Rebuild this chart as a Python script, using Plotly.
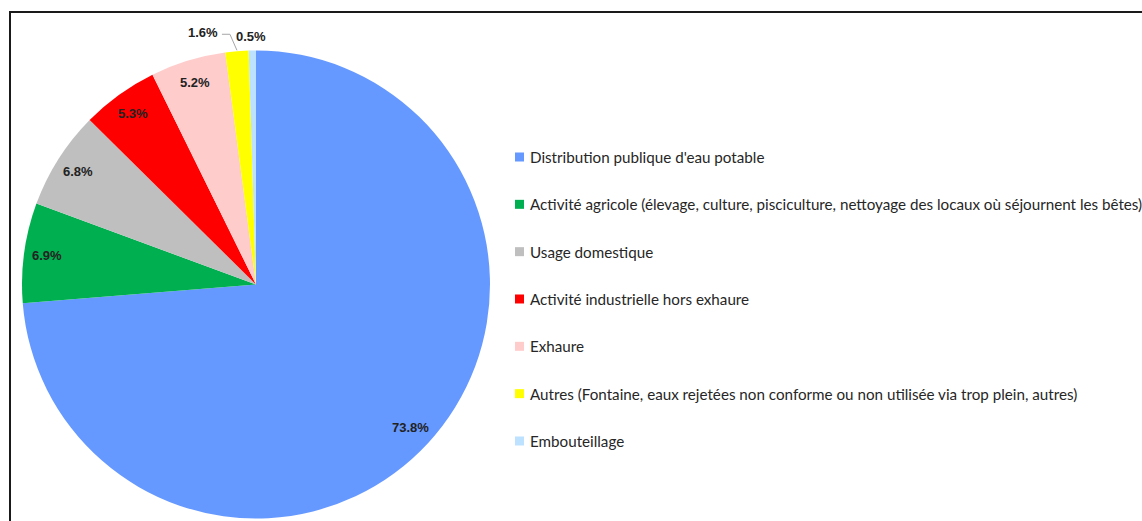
import numpy as np
import plotly.graph_objects as go

# Water withdrawal by usage (share of total volume, %)
categories = [
    "Distribution publique d'eau potable",
    "Activité agricole (élevage, culture, pisciculture, nettoyage des locaux où séjournent les bêtes)",
    "Usage domestique",
    "Activité industrielle hors exhaure",
    "Exhaure",
    "Autres (Fontaine, eaux rejetées non conforme ou non utilisée via trop plein, autres)",
    "Embouteillage",
]
values = [73.8, 6.9, 6.8, 5.3, 5.2, 1.6, 0.5]
colors = ["#6699FF", "#00B050", "#BFBFBF", "#FF0000", "#FFCCCC", "#FFFF00", "#BDE2FF"]

W, H = 1142, 521

# Pie placement in pixels
CX, CY, R = 256.0, 284.5, 234.0


def px(x):
    return x / W


def py(y):
    return 1 - y / H


fig = go.Figure()
fig.add_trace(go.Pie(
    labels=categories,
    values=values,
    marker=dict(colors=colors, line=dict(width=0)),
    sort=False,
    direction="clockwise",
    rotation=0,
    textinfo="none",
    showlegend=False,
    hovertemplate="%{label}: %{value:.1f}%<extra></extra>",
    domain=dict(x=[px(CX - R), px(CX + R)], y=[py(CY + R), py(CY - R)]),
))

# Data labels placed at each slice's mid-angle
vals = np.array(values, dtype=float)
total = vals.sum()
mid = (np.cumsum(vals) - vals / 2) / total * 2 * np.pi
annotations = []
shapes = []
label_font = dict(family="Liberation Sans", size=13, color="#222222")
for v, a in zip(vals, mid):
    text = f"<b>{v:.1f}%</b>"
    if v >= 2:
        r = 0.9 * R
        x, y = CX + r * np.sin(a), CY - r * np.cos(a)
        annotations.append(dict(x=px(x), y=py(y), xref="paper", yref="paper", text=text,
                                showarrow=False, font=label_font, xanchor="center", yanchor="middle"))
    else:
        ex, ey = CX + R * np.sin(a), CY - R * np.cos(a)
        if v >= 1:
            # label pulled out to the left with an elbow leader
            kx, ky = ex - 7, ey - 17
            tx = kx - 8
            shapes.append(dict(type="path", xref="paper", yref="paper",
                               path=f"M {px(ex)},{py(ey - 1)} L {px(kx)},{py(ky)} L {px(tx)},{py(ky)}",
                               line=dict(color="#A6A6A6", width=1)))
            annotations.append(dict(x=px(tx - 2), y=py(ky - 2), xref="paper", yref="paper", text=text,
                                    showarrow=False, font=label_font, xanchor="right", yanchor="middle"))
        else:
            annotations.append(dict(x=px(ex - 1), y=py(ey - 14), xref="paper", yref="paper", text=text,
                                    showarrow=False, font=label_font, xanchor="center", yanchor="middle"))

# Legend: coloured square + label, evenly spaced
LEG_X, LEG_Y0, LEG_DY, SQ = 515, 157, 47.33, 9
legend_font = dict(family="Lato", size=15.2, color="#262626")
for i, (name, c) in enumerate(zip(categories, colors)):
    yc = LEG_Y0 + i * LEG_DY
    shapes.append(dict(type="rect", xref="paper", yref="paper",
                       x0=px(LEG_X), x1=px(LEG_X + SQ), y0=py(yc + SQ / 2), y1=py(yc - SQ / 2),
                       fillcolor=c, line=dict(width=0)))
    annotations.append(dict(x=px(LEG_X + SQ + 4), y=py(yc), xref="paper", yref="paper", text=name,
                            showarrow=False, font=legend_font, xanchor="left", yanchor="middle"))

# Chart frame (left and top edges)
shapes.append(dict(type="line", xref="paper", yref="paper", x0=px(10), x1=px(10), y0=py(12), y1=0,
                   line=dict(color="#1A1A1A", width=2)))
shapes.append(dict(type="line", xref="paper", yref="paper", x0=px(9), x1=1, y0=py(12), y1=py(12),
                   line=dict(color="#1A1A1A", width=2)))

fig.update_layout(
    width=W, height=H,
    margin=dict(l=0, r=0, t=0, b=0),
    paper_bgcolor="white",
    plot_bgcolor="white",
    annotations=annotations,
    shapes=shapes,
)

fig.write_html("out.html")
